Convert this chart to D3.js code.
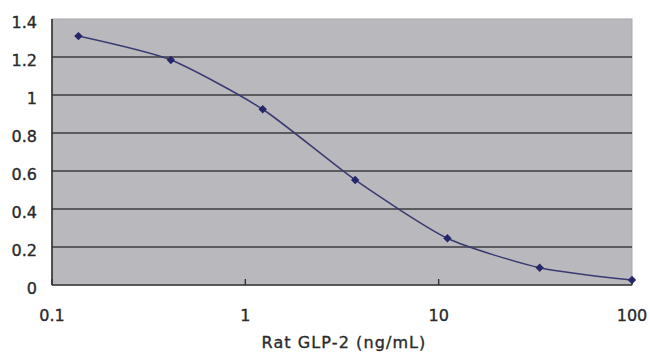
<!DOCTYPE html>
<meta charset="utf-8">
<script src="https://d3js.org/d3.v7.min.js"></script>
<style>
body { margin: 0; background: #fff; }
text { font-family: "DejaVu Sans", sans-serif; fill: #2a2a2a; stroke: #2a2a2a; stroke-width: 0.35; }
</style>
<svg id="chart" width="650" height="353"></svg>
<script>
// Standard curve: concentration (ng/mL) vs absorbance
const conc = [0.137, 0.412, 1.23, 3.70, 11.1, 33.3, 100];
const absorb = [1.31, 1.184, 0.925, 0.553, 0.246, 0.091, 0.026];
const xTicks = [0.1, 1, 10, 100];
const yTicks = [0, 0.2, 0.4, 0.6, 0.8, 1, 1.2, 1.4];
const xTitle = "Rat GLP-2 (ng/mL)";

const svg = d3.select("#chart");
const mLeft = 52, mRight = 632, mTop = 19, mBottom = 285;

const x = d3.scaleLog().domain([0.1, 100]).range([mLeft, mRight]);
const y = d3.scaleLinear().domain([0, 1.4]).range([mBottom, mTop]);

// plot area
svg.append("rect")
  .attr("x", mLeft).attr("y", mTop)
  .attr("width", mRight - mLeft).attr("height", mBottom - mTop)
  .attr("fill", "#b9b9bd")
  .attr("stroke", "#a8a8ac");

// gridlines
svg.append("g")
  .selectAll("line")
  .data(yTicks.filter(d => d > 0 && d < 1.4))
  .join("line")
    .attr("x1", mLeft).attr("x2", mRight)
    .attr("y1", d => y(d)).attr("y2", d => y(d))
    .attr("stroke", "#3c3c40")
    .attr("stroke-width", 1.6);

// axes lines
svg.append("line")
  .attr("x1", mLeft).attr("x2", mLeft).attr("y1", mTop).attr("y2", mBottom)
  .attr("stroke", "#333").attr("stroke-width", 1.6);
svg.append("line")
  .attr("x1", mLeft).attr("x2", mRight).attr("y1", mBottom).attr("y2", mBottom)
  .attr("stroke", "#333").attr("stroke-width", 1.6);

// x ticks (inside)
svg.append("g")
  .selectAll("line")
  .data(xTicks)
  .join("line")
    .attr("x1", d => x(d)).attr("x2", d => x(d))
    .attr("y1", mBottom).attr("y2", mBottom - 6)
    .attr("stroke", "#333").attr("stroke-width", 1.4);

// y labels
svg.append("g")
  .selectAll("text")
  .data(yTicks)
  .join("text")
    .attr("x", 37)
    .attr("y", d => y(d) + 9)
    .attr("text-anchor", "end")
    .attr("font-size", 16)
    .text(d => d3.format("~g")(d));

// x labels
svg.append("g")
  .selectAll("text")
  .data(xTicks)
  .join("text")
    .attr("x", d => x(d))
    .attr("y", 321)
    .attr("text-anchor", "middle")
    .attr("font-size", 16)
    .text(d => d3.format("~g")(d));

svg.append("text")
  .attr("x", 344)
  .attr("y", 348)
  .attr("text-anchor", "middle")
  .attr("font-size", 16)
  .attr("letter-spacing", 1.1)
  .text(xTitle);

// curve
const pts = conc.map((c, i) => [c, absorb[i]]);
svg.append("path")
  .datum(pts)
  .attr("fill", "none")
  .attr("stroke", "#3a3a72")
  .attr("stroke-width", 1.5)
  .attr("d", d3.line()
    .x(d => x(d[0]))
    .y(d => y(d[1]))
    .curve(d3.curveCardinal.tension(0.35)));

// diamond markers
svg.append("g")
  .selectAll("path")
  .data(pts)
  .join("path")
    .attr("transform", d => `translate(${x(d[0])},${y(d[1])})`)
    .attr("d", d3.symbol(d3.symbolDiamond2, 45))
    .attr("fill", "#26266a");
</script>
